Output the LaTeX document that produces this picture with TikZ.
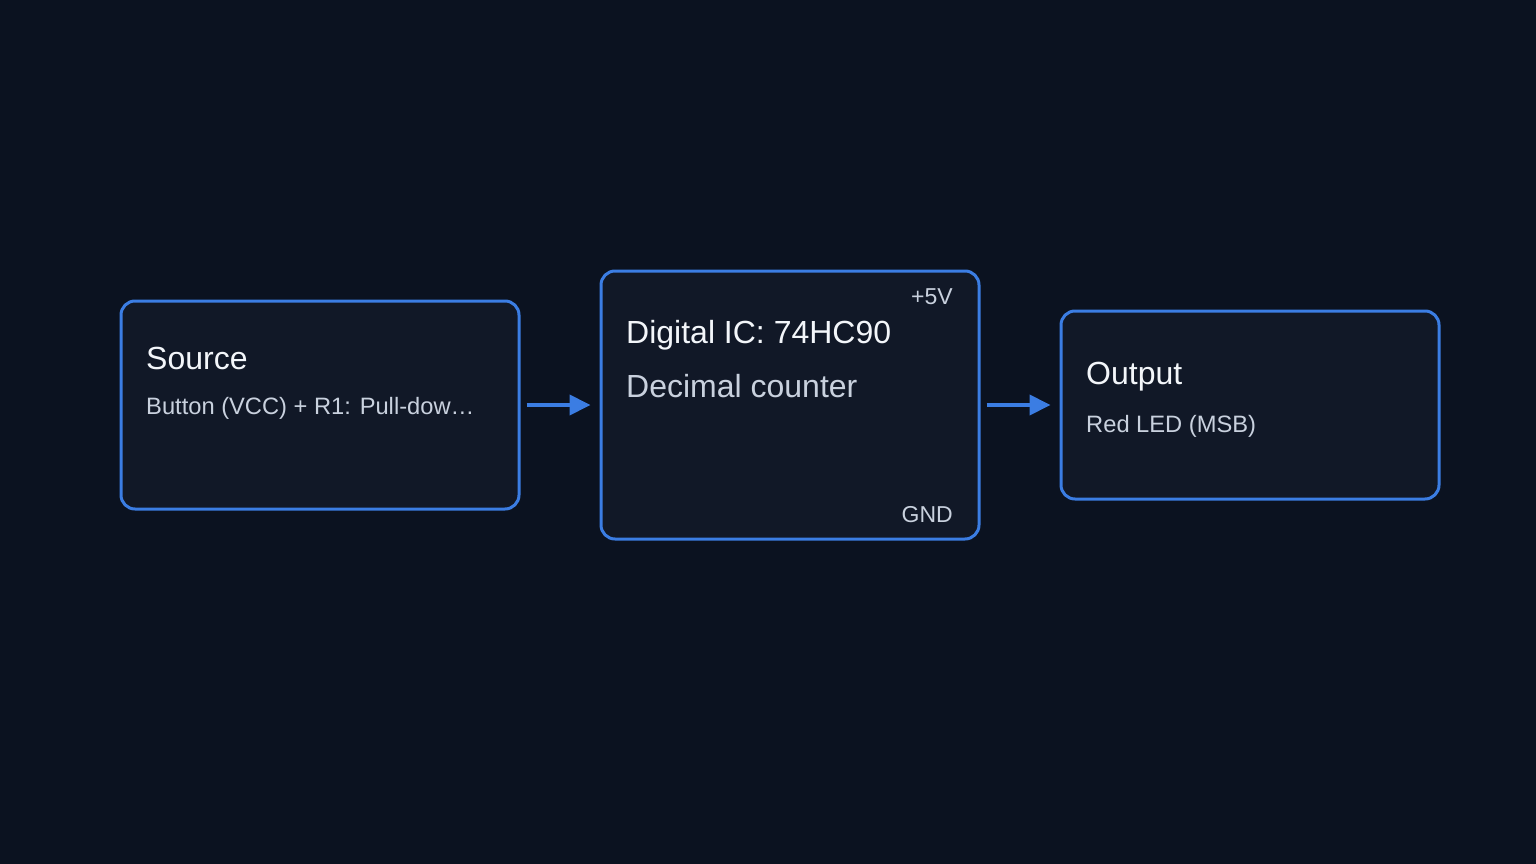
\documentclass[tikz,border=0pt]{standalone}
\usepackage{fontspec}
\setmainfont{Liberation Sans}
\usetikzlibrary{arrows.meta}
\begin{document}
\begin{tikzpicture}[x=1pt, y=-1pt, line join=round,
    block/.style={draw=edgeblue, line width=3pt, fill=boxfill, rounded corners=14pt, inner sep=0pt},
    title/.style={anchor=base west, inner sep=0pt, text=titlewhite, font=\fontsize{32}{38}\selectfont},
    sub/.style={anchor=base west, inner sep=0pt, text=subgrey, font=\fontsize{23.7}{29}\selectfont},
    pin/.style={anchor=base east, inner sep=0pt, text=subgrey, font=\fontsize{23}{28}\selectfont},
    flow/.style={draw=edgeblue, line width=4pt, -{Triangle[length=21pt, width=20pt]}, shorten <=6pt, shorten >=9pt}]
  \definecolor{bgdark}{HTML}{0B1220}
  \definecolor{boxfill}{HTML}{111827}
  \definecolor{edgeblue}{HTML}{3B7DE3}
  \definecolor{titlewhite}{HTML}{F3F6FA}
  \definecolor{subgrey}{HTML}{C9D1DE}
  \fill[bgdark] (0,0) rectangle (1536,864);
  \useasboundingbox (0,0) rectangle (1536,864);
  % the three blocks
  \node[block, minimum width=398pt, minimum height=208pt] (src) at (320,405) {};
  \node[block, minimum width=378pt, minimum height=268pt] (ic) at (790,405) {};
  \node[block, minimum width=378pt, minimum height=188pt] (out) at (1250,405) {};
  % texts
  \node[title] (srcT) at (146,369) {Source};
  \node[sub] (srcS) at (146,414) {Button (VCC) + R1: Pull-dow…};
  \node[title] (icT) at (626,343) {Digital IC: 74HC90};
  \node[title, text=subgrey] (icS) at (626,397) {Decimal counter};
  \node[pin] (vcc) at (953,304) {+5V};
  \node[pin] (gnd) at (953,522) {GND};
  \node[title] (outT) at (1086,384) {Output};
  \node[sub] (outS) at (1086,432) {Red LED (MSB)};
  % signal flow
  \draw[flow] (src) -- (ic);
  \draw[flow] (ic) -- (out);
\end{tikzpicture}
\end{document}
